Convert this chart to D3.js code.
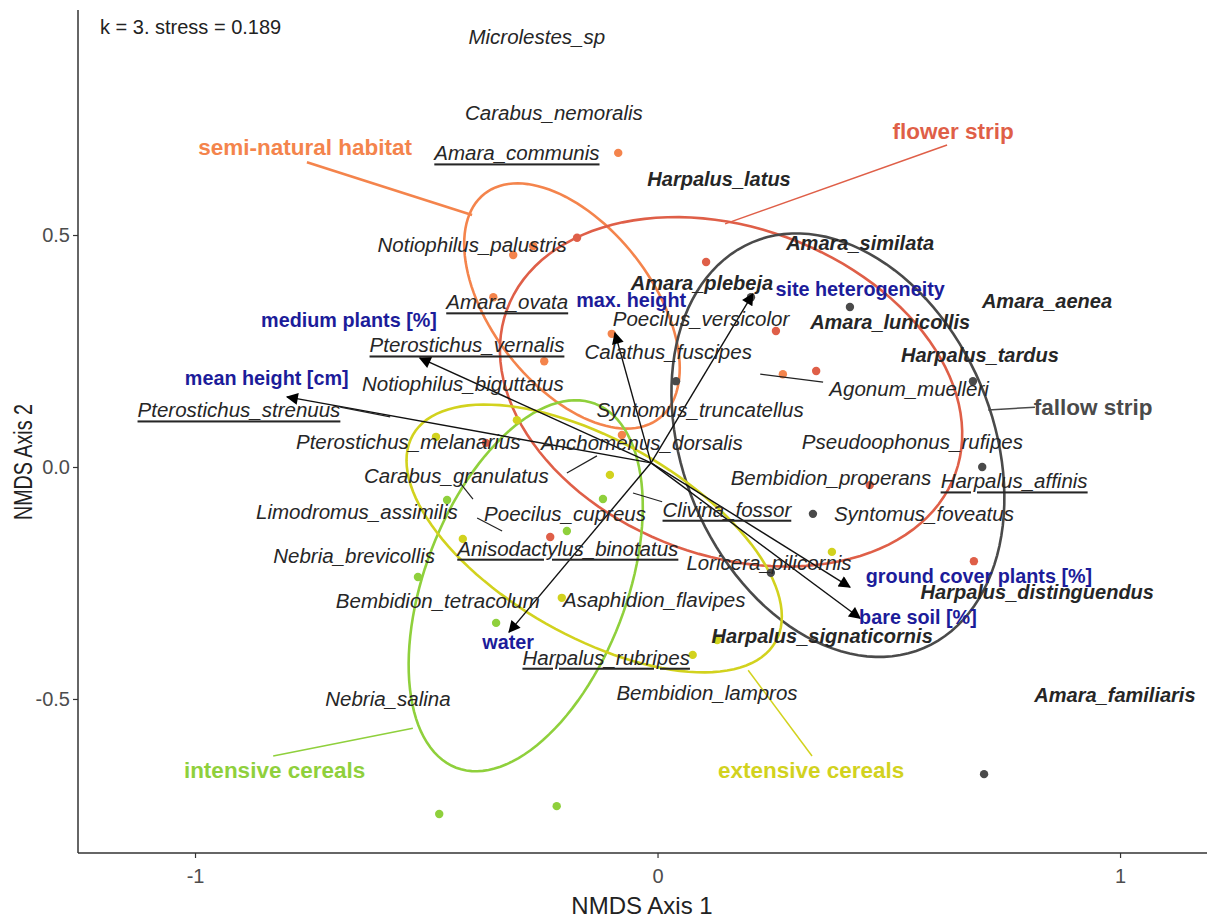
<!DOCTYPE html>
<html lang="en">
<head>
<meta charset="UTF-8">
<title>NMDS</title>
<script src="https://d3js.org/d3.v7.min.js"></script>
<style>
  body { margin: 0; background: #fff; }
  text { font-family: "Liberation Sans", Arial, sans-serif; }
</style>
</head>
<body>
<script>
// site scores per group
const groups = ["semi-natural habitat", "flower strip", "fallow strip", "intensive cereals", "extensive cereals"];
const groupColors = ["#f4844c", "#df5f48", "#4a4a4a", "#8fd03c", "#d2d21e"];
const siteGroup = [0,0,0,0,0,0,0,0, 1,1,1,1,1,1,1,1, 2,2,2,2,2,2,2,2, 3,3,3,3,3,3,3, 4,4,4,4,4,4,4,4];
const siteX = [-0.085,-0.312,-0.269,-0.355,-0.099,-0.245,-0.077,0.271,
               -0.174,0.105,0.256,0.343,-0.371,-0.232,0.459,0.684,
               0.202,0.416,0.040,0.682,0.702,0.336,0.245,0.706,
               -0.455,-0.118,-0.196,-0.518,-0.349,-0.472,-0.218,
               -0.304,-0.479,-0.103,-0.421,-0.207,0.076,0.129,0.377];
const siteY = [0.677,0.457,0.476,0.366,0.287,0.228,0.069,0.200,
               0.494,0.442,0.293,0.207,0.052,-0.151,-0.039,-0.203,
               0.366,0.345,0.185,0.185,0.000,-0.101,-0.228,-0.662,
               -0.071,-0.069,-0.138,-0.237,-0.336,-0.748,-0.731,
               0.101,0.065,-0.017,-0.155,-0.282,-0.405,-0.373,-0.183];

// group ellipses: centre, semi-axes, rotation (deg)
const ellCx = [-0.185, 0.159, 0.390, -0.285, -0.137];
const ellCy = [0.347, 0.162, 0.047, -0.256, -0.154];
const ellA = [0.307, 0.516, 0.475, 0.420, 0.451];
const ellB = [0.173, 0.354, 0.335, 0.218, 0.211];
const ellRot = [-52, -20, -67, 69, -29.6];

// group labels + leader lines
const glabX = [-0.762, 0.639, 0.942, -0.828, 0.332];
const glabY = [0.688, 0.724, 0.129, -0.655, -0.655];
const gleadX1 = [-0.758, 0.626, 0.816, -0.831, 0.196];
const gleadY1 = [0.657, 0.694, 0.129, -0.623, -0.438];
const gleadX2 = [-0.401, 0.146, 0.715, -0.529, 0.334];
const gleadY2 = [0.543, 0.524, 0.123, -0.563, -0.623];

// species (i = italic, b = bold italic, u = underlined italic)
const speciesNames = ["Microlestes_sp","Carabus_nemoralis","Amara_communis","Harpalus_latus","Notiophilus_palustris",
  "Amara_similata","Amara_plebeja","Amara_aenea","Amara_ovata","Poecilus_versicolor","Amara_lunicollis",
  "Pterostichus_vernalis","Calathus_fuscipes","Harpalus_tardus","Notiophilus_biguttatus","Agonum_muelleri",
  "Pterostichus_strenuus","Syntomus_truncatellus","Pterostichus_melanarius","Anchomenus_dorsalis",
  "Pseudoophonus_rufipes","Carabus_granulatus","Bembidion_properans","Harpalus_affinis","Limodromus_assimilis",
  "Poecilus_cupreus","Clivina_fossor","Syntomus_foveatus","Anisodactylus_binotatus","Nebria_brevicollis",
  "Loricera_pilicornis","Harpalus_distinguendus","Bembidion_tetracolum","Asaphidion_flavipes",
  "Harpalus_signaticornis","Harpalus_rubripes","Bembidion_lampros","Nebria_salina","Amara_familiaris"];
const speciesX = [-0.261,-0.224,-0.304,0.133,-0.401,0.438,0.096,0.842,-0.325,0.094,0.503,-0.412,0.023,0.697,-0.421,0.544,
  -0.905,0.092,-0.539,-0.034,0.551,-0.435,0.375,0.771,-0.650,-0.200,0.150,0.576,-0.194,-0.656,0.241,0.821,-0.475,-0.007,
  0.356,-0.111,0.107,-0.583,0.989];
const speciesY = [0.927,0.763,0.677,0.621,0.479,0.483,0.397,0.358,0.356,0.321,0.313,0.263,0.248,0.241,0.181,0.170,
  0.123,0.123,0.056,0.052,0.056,-0.019,-0.022,-0.030,-0.095,-0.101,-0.091,-0.101,-0.175,-0.190,-0.205,-0.269,-0.287,-0.285,
  -0.364,-0.410,-0.485,-0.500,-0.491];
const speciesStyle = ["i","i","u","b","i","b","b","b","u","i","b","u","i","b","i","i",
  "u","i","i","i","i","i","i","u","i","i","u","i","u","i","i","b","i","i","b","u","i","i","b"];

// species leader segments
const slX1 = [0.222,-0.686,-0.427,-0.196,-0.390,-0.053];
const slY1 = [0.200,0.129,-0.034,-0.013,-0.110,-0.056];
const slX2 = [0.358,-0.578,-0.399,-0.131,-0.336,0.010];
const slY2 = [0.183,0.108,-0.069,0.024,-0.138,-0.075];

// environmental vectors
const envNames = ["max. height","site heterogeneity","medium plants [%]","mean height [cm]","water","ground cover plants [%]","bare soil [%]"];
const envX = [-0.092,0.206,-0.514,-0.801,-0.321,0.416,0.438];
const envY = [0.289,0.373,0.235,0.151,-0.356,-0.259,-0.326];
const envLabX = [-0.057,0.438,-0.667,-0.845,-0.323,0.695,0.563];
const envLabY = [0.360,0.384,0.317,0.192,-0.377,-0.235,-0.323];
const envOrigin = [-0.014, 0.009];

const xTicks = [-1, 0, 1];
const yTicks = [-0.5, 0.0, 0.5];

const W = 1207, H = 918;
const mLeft = 78, mRight = 1207, mTop = 10, mBottom = 853;

const svg = d3.select("body").append("svg").attr("width", W).attr("height", H);

const x = d3.scaleLinear().domain([-1.253, 1.188]).range([mLeft, mRight]);
const y = d3.scaleLinear().domain([-0.832, 0.985]).range([mBottom, mTop]);

svg.append("defs").append("marker")
  .attr("id", "arr").attr("viewBox", "0 0 10 10")
  .attr("refX", 9).attr("refY", 5)
  .attr("markerWidth", 14).attr("markerHeight", 12)
  .attr("markerUnits", "userSpaceOnUse")
  .attr("orient", "auto")
  .append("path").attr("d", "M0,0 L10,5 L0,10 Z").attr("fill", "#000");

// axes
const hy = f => d => f(d).replace("\u2212", "-");
const xAxis = svg.append("g").attr("transform", `translate(0,${mBottom})`)
  .call(d3.axisBottom(x).tickValues(xTicks).tickFormat(hy(d3.format("d"))).tickSizeOuter(0).tickSize(5));
const yAxis = svg.append("g").attr("transform", `translate(${mLeft},0)`)
  .call(d3.axisLeft(y).tickValues(yTicks).tickFormat(hy(d3.format(".1f"))).tickSizeOuter(0).tickSize(5));
[xAxis, yAxis].forEach(g => {
  g.select(".domain").attr("stroke", "#333").attr("stroke-width", 1.5);
  g.selectAll(".tick line").attr("stroke", "#333").attr("stroke-width", 1.2);
  g.selectAll(".tick text").attr("fill", "#4d4d4d").style("font-size", "20px")
    .style("font-family", "Liberation Sans, Arial, sans-serif");
});
xAxis.selectAll(".tick text").attr("dy", "1.1em");
xAxis.select(".domain").attr("d", `M${mLeft},0H${mRight}`);
yAxis.select(".domain").attr("d", `M0,${mTop}V${mBottom}`);

svg.append("text").attr("x", 642).attr("y", 905)
  .attr("text-anchor", "middle").attr("dominant-baseline", "central")
  .style("font-size", "24px").attr("fill", "#222").text("NMDS Axis 1");
svg.append("text").attr("transform", `translate(23,${462}) rotate(-90)`)
  .attr("text-anchor", "middle").attr("dominant-baseline", "central")
  .attr("textLength", 116).attr("lengthAdjust", "spacingAndGlyphs")
  .style("font-size", "25px").attr("fill", "#222").text("NMDS Axis 2");

svg.append("text").attr("x", 100).attr("y", 27).attr("dominant-baseline", "central")
  .style("font-size", "20px").attr("fill", "#222").text("k = 3. stress = 0.189");

// ellipses
const ellLine = d3.line().x(d => x(d[0])).y(d => y(d[1])).curve(d3.curveLinearClosed);
groups.forEach((g, i) => {
  const phi = ellRot[i] * Math.PI / 180;
  const pts = d3.range(0, 360, 3).map(deg => {
    const t = deg * Math.PI / 180;
    return [ellCx[i] + ellA[i] * Math.cos(t) * Math.cos(phi) - ellB[i] * Math.sin(t) * Math.sin(phi),
            ellCy[i] + ellA[i] * Math.cos(t) * Math.sin(phi) + ellB[i] * Math.sin(t) * Math.cos(phi)];
  });
  svg.append("path").attr("d", ellLine(pts)).attr("fill", "none")
    .attr("stroke", groupColors[i]).attr("stroke-width", 2.6);
  svg.append("line")
    .attr("x1", x(gleadX1[i])).attr("y1", y(gleadY1[i]))
    .attr("x2", x(gleadX2[i])).attr("y2", y(gleadY2[i]))
    .attr("stroke", groupColors[i]).attr("stroke-width", i === 0 ? 2.6 : 1.5);
  svg.append("text").attr("x", x(glabX[i])).attr("y", y(glabY[i]))
    .attr("text-anchor", "middle").attr("dominant-baseline", "central")
    .style("font-size", "22.5px").style("font-weight", "bold")
    .attr("fill", groupColors[i]).text(g);
});

// site points
svg.append("g").selectAll("circle").data(siteX).join("circle")
  .attr("cx", (d, i) => x(d)).attr("cy", (d, i) => y(siteY[i])).attr("r", 4.2)
  .attr("fill", (d, i) => groupColors[siteGroup[i]]);

// env arrows
svg.append("g").selectAll("line").data(envX).join("line")
  .attr("x1", x(envOrigin[0])).attr("y1", y(envOrigin[1]))
  .attr("x2", d => x(d)).attr("y2", (d, i) => y(envY[i]))
  .attr("stroke", "#111").attr("stroke-width", 1.4).attr("marker-end", "url(#arr)");

// species leader lines
svg.append("g").selectAll("line").data(slX1).join("line")
  .attr("x1", d => x(d)).attr("y1", (d, i) => y(slY1[i]))
  .attr("x2", (d, i) => x(slX2[i])).attr("y2", (d, i) => y(slY2[i]))
  .attr("stroke", "#222").attr("stroke-width", 1.2);

// species labels
svg.append("g").selectAll("text").data(speciesNames).join("text")
  .attr("x", (d, i) => x(speciesX[i])).attr("y", (d, i) => y(speciesY[i]))
  .attr("text-anchor", "middle").attr("dominant-baseline", "central")
  .style("font-size", (d, i) => speciesStyle[i] === "b" ? "20px" : "20.5px")
  .style("font-style", "italic")
  .style("font-weight", (d, i) => speciesStyle[i] === "b" ? "bold" : "normal")
  .style("text-decoration", (d, i) => speciesStyle[i] === "u" ? "underline" : "none")
  .attr("fill", "#262626").text(d => d);

// env labels
svg.append("g").selectAll("text").data(envNames).join("text")
  .attr("x", (d, i) => x(envLabX[i])).attr("y", (d, i) => y(envLabY[i]))
  .attr("text-anchor", "middle").attr("dominant-baseline", "central")
  .style("font-size", "19.8px").style("font-weight", "bold")
  .attr("fill", "#1c1c9a").text(d => d);
</script>
</body>
</html>
